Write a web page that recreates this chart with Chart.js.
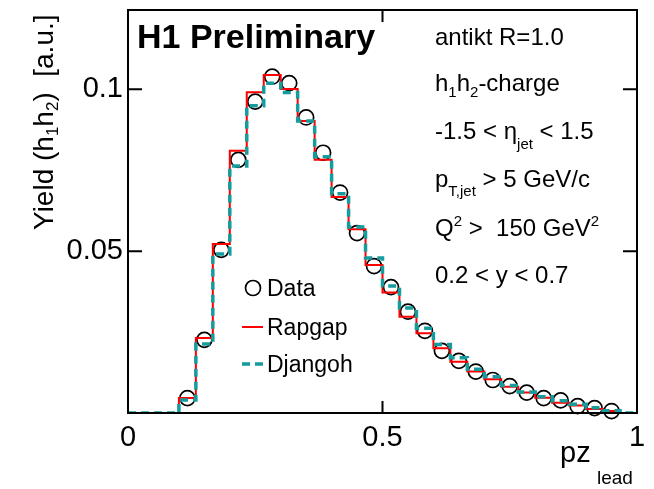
<!DOCTYPE html>
<html>
<head>
<meta charset="utf-8">
<script src="https://cdn.jsdelivr.net/npm/chart.js@4.4.0/dist/chart.umd.min.js"></script>
<style>
  html, body { margin: 0; padding: 0; background: #fff; }
</style>
</head>
<body>
<canvas id="myChart" width="654" height="489"></canvas>
<script>
// 30 equal bins in pz_lead, 0..1
const nBins = 30;
const binEdges = Array.from({length: nBins + 1}, (_, i) => i / nBins);

// Data points (open circles), null = no point
const dataVals = [null, null, null, 0.0046, 0.0226, 0.0504, 0.0782, 0.0962, 0.1039, 0.1019,
  0.0913, 0.0804, 0.0681, 0.0556, 0.0454, 0.0389, 0.0313, 0.0254, 0.0192, 0.0161,
  0.0128, 0.0102, 0.0083, 0.0063, 0.0046, 0.0039, 0.0021, 0.0015, 0.0006, null];
// Rapgap (red solid histogram)
const rapgapVals = [0, 0, 0, 0.0046, 0.0232, 0.0522, 0.0810, 0.0991, 0.1044, 0.1001,
  0.0902, 0.0782, 0.0667, 0.0568, 0.0457, 0.0372, 0.0297, 0.0246, 0.0200, 0.0158,
  0.0128, 0.0104, 0.0081, 0.0063, 0.0047, 0.0032, 0.0023, 0.0012, 0.0006, 0];
// Djangoh (teal dashed histogram)
const djangohVals = [0, 0, 0, 0.0040, 0.0213, 0.0491, 0.0763, 0.0949, 0.1019, 0.0990,
  0.0902, 0.0792, 0.0677, 0.0575, 0.0479, 0.0392, 0.0324, 0.0262, 0.0212, 0.0171,
  0.0135, 0.0112, 0.0085, 0.0065, 0.0050, 0.0038, 0.0027, 0.0016, 0.0007, 0];

const xTicks = [0, 0.5, 1];
const yTicks = [0.05, 0.1];

const FONT = "'Liberation Sans', Arial, Helvetica, sans-serif";
const TEAL = '#169c9c';

// histogram -> step points at left bin edges (+ closing point at x=1)
function steps(vals) {
  const pts = vals.map((v, i) => ({x: binEdges[i], y: v}));
  pts.push({x: binEdges[nBins], y: vals[nBins - 1]});
  return pts;
}
function centers(vals) {
  return vals.map((v, i) => v === null ? null : {x: (binEdges[i] + binEdges[i + 1]) / 2, y: v})
             .filter(p => p !== null);
}

// draw text with sub/superscripts: parts = [text, size, dy]
function rich(ctx, x, y, parts, bold) {
  for (const [t, size, dy] of parts) {
    ctx.font = (bold ? 'bold ' : '') + size + 'px ' + FONT;
    ctx.fillText(t, x, y + dy);
    x += ctx.measureText(t).width;
  }
}

const frame = {
  id: 'frame',
  afterDatasetsDraw(chart) {
    const {ctx, chartArea: a, scales: {x, y}} = chart;
    ctx.save();
    ctx.strokeStyle = '#000';
    ctx.lineWidth = 2;
    ctx.strokeRect(a.left, a.top, a.right - a.left, a.bottom - a.top);
    // inward ticks
    ctx.beginPath();
    for (const v of xTicks) {
      const px = x.getPixelForValue(v);
      ctx.moveTo(px, a.bottom); ctx.lineTo(px, a.bottom - 12);
      ctx.moveTo(px, a.top); ctx.lineTo(px, a.top + 12);
    }
    for (const v of yTicks) {
      const py = y.getPixelForValue(v);
      ctx.moveTo(a.left, py); ctx.lineTo(a.left + 14, py);
      ctx.moveTo(a.right, py); ctx.lineTo(a.right - 14, py);
    }
    ctx.stroke();

    ctx.fillStyle = '#000';
    ctx.textBaseline = 'alphabetic';
    ctx.textAlign = 'left';
    rich(ctx, 137, 48, [['H1 Preliminary', 34, 0]], true);

    const tx = 435;
    rich(ctx, tx, 45, [['antikt R=1.0', 24, 0]]);
    rich(ctx, tx, 91, [['h', 24, 0], ['1', 15, 6], ['h', 24, 0], ['2', 15, 6], ['-charge', 24, 0]]);
    rich(ctx, tx, 139, [['-1.5 < \u03b7', 24, 0], ['jet', 15, 10], [' < 1.5', 24, 0]]);
    rich(ctx, tx, 187, [['p', 24, 0], ['T,jet', 15, 9], [' > 5 GeV/c', 24, 0]]);
    rich(ctx, tx, 236, [['Q', 24, 0], ['2', 15, -10], [' >  150 GeV', 24, 0], ['2', 15, -10]]);
    rich(ctx, tx, 283, [['0.2 < y < 0.7', 24, 0]]);

    // legend
    ctx.lineWidth = 1.7;
    ctx.beginPath();
    ctx.arc(253, 288, 7.5, 0, Math.PI * 2);
    ctx.stroke();
    rich(ctx, 267, 296, [['Data', 23, 0]]);
    ctx.strokeStyle = '#ff0000';
    ctx.lineWidth = 2;
    ctx.beginPath(); ctx.moveTo(242, 327); ctx.lineTo(263, 327); ctx.stroke();
    rich(ctx, 267, 335, [['Rapgap', 23, 0]]);
    ctx.strokeStyle = TEAL;
    ctx.lineWidth = 3.5;
    ctx.setLineDash([8, 5]);
    ctx.beginPath(); ctx.moveTo(242, 364); ctx.lineTo(263, 364); ctx.stroke();
    ctx.setLineDash([]);
    rich(ctx, 267, 372, [['Djangoh', 23, 0]]);

    // axis titles
    rich(ctx, 560, 462, [['pz', 29, 0]]);
    rich(ctx, 597, 484, [['lead', 19, 0]]);
    ctx.translate(53, 230);
    ctx.rotate(-Math.PI / 2);
    rich(ctx, 0, 0, [['Yield (h', 28, 0], ['1', 17, 5], ['h', 28, 0], ['2', 17, 5], [')  [a.u.]', 28, 0]]);
    ctx.restore();
  }
};

new Chart(document.getElementById('myChart'), {
  type: 'line',
  data: {
    datasets: [
      {
        label: 'Djangoh',
        data: steps(djangohVals),
        stepped: 'before',
        borderColor: TEAL,
        borderWidth: 3.5,
        borderDash: [8, 5],
        pointRadius: 0,
        fill: false,
        order: 1
      },
      {
        label: 'Rapgap',
        data: steps(rapgapVals),
        stepped: 'before',
        borderColor: '#ff0000',
        borderWidth: 2,
        pointRadius: 0,
        fill: false,
        order: 2
      },
      {
        label: 'Data',
        type: 'scatter',
        data: centers(dataVals),
        showLine: false,
        pointStyle: 'circle',
        pointRadius: 7.5,
        pointBorderWidth: 1.7,
        pointBorderColor: '#000',
        pointBackgroundColor: 'rgba(0,0,0,0)',
        clip: false,
        order: 3
      }
    ]
  },
  options: {
    responsive: false,
    animation: false,
    layout: {padding: {top: 10, right: 17, left: 0, bottom: 0}},
    plugins: {legend: {display: false}, tooltip: {enabled: false}},
    scales: {
      x: {
        type: 'linear', min: 0, max: 1,
        afterFit(s) { s.height = 76; s.paddingLeft = 0; s.paddingRight = 0; },
        afterBuildTicks(s) { s.ticks = xTicks.map(v => ({value: v})); },
        ticks: {color: '#000', font: {family: FONT, size: 29}, padding: 8, maxRotation: 0, autoSkip: false,
                callback: v => String(v)},
        grid: {display: false, drawTicks: false},
        border: {display: false}
      },
      y: {
        type: 'linear', min: 0, max: 0.1245,
        afterFit(s) { s.width = 128; s.paddingTop = 0; s.paddingBottom = 0; },
        afterBuildTicks(s) { s.ticks = yTicks.map(v => ({value: v})); },
        ticks: {color: '#000', font: {family: FONT, size: 29}, padding: 5,
                callback: v => String(v)},
        grid: {display: false, drawTicks: false},
        border: {display: false}
      }
    }
  },
  plugins: [frame]
});
</script>
</body>
</html>
